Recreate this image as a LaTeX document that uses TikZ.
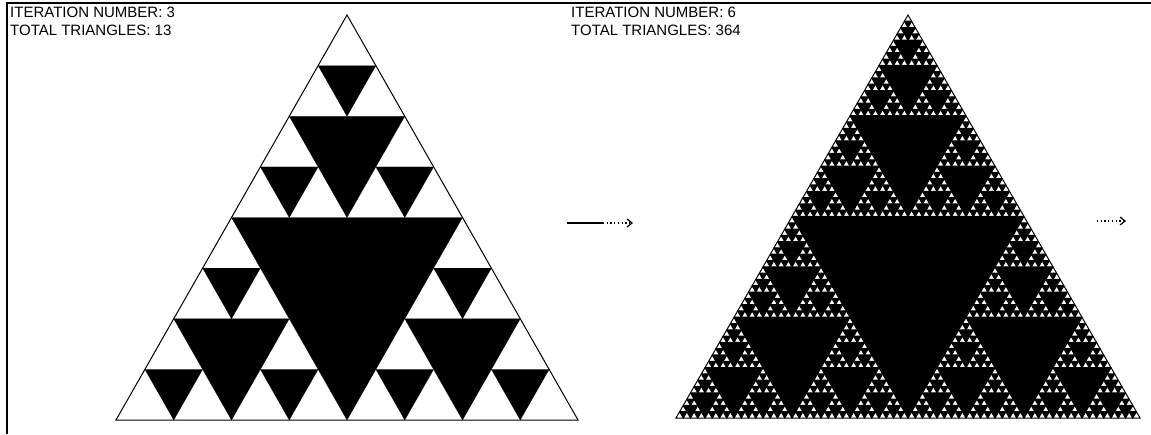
\documentclass[tikz,border=0pt]{standalone}
\usepackage{fontspec}
\setmainfont{Liberation Sans}
\usetikzlibrary{arrows.meta}
\newcommand\sierp[7]{%
 \begingroup
 \pgfmathsetmacro\mabx{(#2+#4)/2}\pgfmathsetmacro\maby{(#3+#5)/2}%
 \pgfmathsetmacro\mbcx{(#4+#6)/2}\pgfmathsetmacro\mbcy{(#5+#7)/2}%
 \pgfmathsetmacro\mcax{(#6+#2)/2}\pgfmathsetmacro\mcay{(#7+#3)/2}%
 \path[hole] (\mabx,\maby) -- (\mbcx,\mbcy) -- (\mcax,\mcay) -- cycle;
 \ifnum#1>1
   \pgfmathtruncatemacro\nl{#1-1}%
   \edef\next{\noexpand\sierp{\nl}{#2}{#3}{\mabx}{\maby}{\mcax}{\mcay}%
     \noexpand\sierp{\nl}{\mabx}{\maby}{#4}{#5}{\mbcx}{\mbcy}%
     \noexpand\sierp{\nl}{\mcax}{\mcay}{\mbcx}{\mbcy}{#6}{#7}}%
   \next
 \fi
 \endgroup}
\begin{document}
\begin{tikzpicture}[x=1pt,y=-1pt,
  label/.style={anchor=north west,inner sep=0pt,font=\fontsize{15}{18}\selectfont,align=left},
  outline/.style={draw=black,line width=1pt},
  hole/.style={fill=black,draw=black,line width=0.4pt,line join=miter},
  dots/.style={line width=1.3pt,dash pattern=on 1.3pt off 2.4pt},
  arr/.style={-{Straight Barb[length=5pt,width=8pt,line width=1.2pt]}}]
\useasboundingbox (0,0) rectangle (1151,434);
\fill[white] (0,0) rectangle (1151,434);
% frame
\draw[line width=2pt] (7,434) -- (7,3) -- (1151,3);
% texts
\node[label] (t1) at (10,7) {ITERATION NUMBER: 3\\TOTAL TRIANGLES: 13};
\node[label] (t2) at (571,7) {ITERATION NUMBER: 6\\TOTAL TRIANGLES: 364};
% left triangle
\draw[outline] (347,15) -- (116,420) -- (578,420) -- cycle;
\tikzset{hole/.style={fill=black,draw=black,line width=0.2pt}}
\sierp{3}{347}{15}{116}{420}{578}{420}
% right triangle
\draw[outline] (908,15) -- (676,418) -- (1140,418) -- cycle;
\tikzset{hole/.style={fill=black,draw=black,line width=1.1pt,line join=round}}
\sierp{6}{908}{15}{676}{418}{1140}{418}
% arrows
\coordinate (a1) at (567,223);
\coordinate (a2) at (603,223);
\coordinate (a3) at (633,223);
\draw[line width=1.2pt] (a1) -- (a2);
\draw[arr,dots] (a2) -- (a3);
\coordinate (b1) at (1097,221);
\coordinate (b2) at (1126,221);
\draw[arr,dots] (b1) -- (b2);
\end{tikzpicture}
\end{document}
